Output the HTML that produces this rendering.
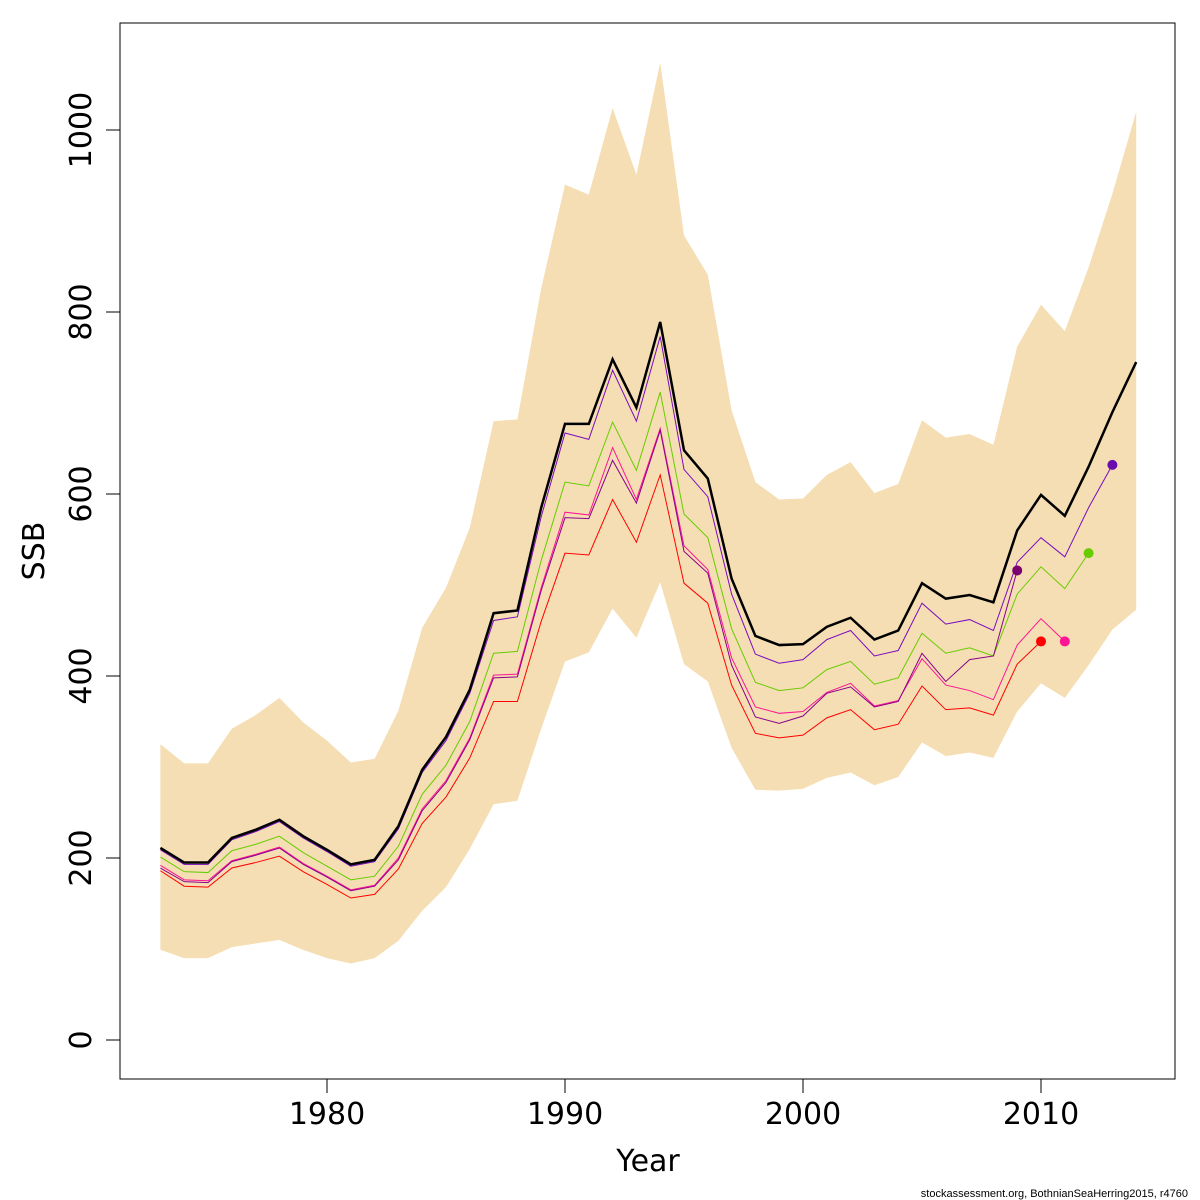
<!DOCTYPE html>
<html><head><meta charset="utf-8"><style>
html,body{margin:0;padding:0;background:#fff;}
svg{display:block;font-family:"DejaVu Sans","Liberation Sans",sans-serif;}
</style></head><body>
<svg id="chart" width="1200" height="1200" viewBox="0 0 1200 1200">
<g id="plot"></g>
<rect x="120" y="23" width="1055" height="1056" fill="none" stroke="#000" stroke-width="1"/>
<g id="axes"></g>
<text x="648" y="1171" font-size="30" text-anchor="middle">Year</text>
<text x="44" y="551" font-size="30" text-anchor="middle" transform="rotate(-90 44 551)">SSB</text>
<text x="1188" y="1197" font-size="11" text-anchor="end" font-family="Liberation Sans, sans-serif">stockassessment.org, BothnianSeaHerring2015, r4760</text>
</svg>
<script>
const years = [1973,1974,1975,1976,1977,1978,1979,1980,1981,1982,1983,1984,1985,1986,1987,1988,1989,1990,1991,1992,1993,1994,1995,1996,1997,1998,1999,2000,2001,2002,2003,2004,2005,2006,2007,2008,2009,2010,2011,2012,2013,2014];
const ssb = [211,195,195,222,231,242,224,209,193,198,235,297,333,385,469,472,585,677,677,748,695,789,648,617,507,444,434,435,454,464,440,450,502,485,489,481,560,599,576,630,690,745];
const upper = [325,304,304,342,357,376,349,329,305,309,362,453,497,563,680,682,826,940,929,1024,951,1074,884,841,692,613,594,595,621,635,601,611,681,662,666,654,762,808,779,849,930,1020];
const lower = [99,90,90,102,106,110,99,90,84,90,109,142,168,210,259,263,342,416,426,474,442,503,413,394,321,275,274,276,288,294,280,289,327,312,316,310,361,392,376,412,451,473];
const peel1 = [209,193,193,220,229,240,222,207,191,196,232,294,329,381,461,465,575,667,660,736,680,773,627,597,490,424,414,418,440,450,422,428,480,457,462,450,525,552,531,585,632];
const peel2 = [201,185,184,208,215,224,206,191,176,180,213,270,302,350,425,427,527,613,609,679,626,712,578,552,452,393,384,387,407,416,391,398,447,425,431,422,490,520,496,535];
const peel3 = [192,176,175,197,204,212,194,180,165,170,200,254,285,332,401,402,497,580,577,651,594,672,543,517,420,366,359,361,382,392,367,373,419,390,384,374,434,463,438];
const peel4 = [186,169,168,189,195,202,185,171,156,160,188,238,267,310,372,372,460,535,533,594,547,621,502,480,390,337,332,335,354,363,341,347,389,363,365,357,413,438];
const peel5 = [189,174,173,196,203,211,193,179,164,169,198,252,283,330,398,399,494,574,573,637,590,670,537,513,412,355,348,356,381,388,366,372,425,394,418,422,516];
const xTicks = [1980,1990,2000,2010];
const yTicks = [0,200,400,600,800,1000];

const NS="http://www.w3.org/2000/svg";
const X = y => 327 + (y-1980)*23.8;
const Y = v => 1040 - v*0.91;
const plot = document.getElementById('plot');
const axes = document.getElementById('axes');
function mk(tag, attrs, parent){const e=document.createElementNS(NS,tag);for(const k in attrs)e.setAttribute(k,attrs[k]);parent.appendChild(e);return e;}

let pts = years.map((y,i)=>X(y)+','+Y(upper[i]));
for(let i=years.length-1;i>=0;i--) pts.push(X(years[i])+','+Y(lower[i]));
const band = mk('polygon',{points:pts.join(' '),fill:'#F5DEB3',stroke:'none'},plot);



const peels = [[peel1,'#7A0CC0','#6A0DAD','peel-2013'],[peel2,'#66CC00','#66CC00','peel-2012'],[peel3,'#FF1493','#FF1493','peel-2011'],[peel4,'#FF0000','#FF0000','peel-2010'],[peel5,'#8B008B','#7A0070','peel-2009']];
peels.forEach(([d,c,dc,n])=>{
  const l = mk('polyline',{points:d.map((v,i)=>X(years[i])+','+Y(v)).join(' '),fill:'none',stroke:c,'stroke-width':1},plot);
  
  
});
const main = mk('polyline',{points:ssb.map((v,i)=>X(years[i])+','+Y(v)).join(' '),fill:'none',stroke:'#000','stroke-width':2.5},plot);


peels.forEach(([d,c,dc,n])=>{
  const i=d.length-1;
  const p = mk('circle',{cx:X(years[i]),cy:Y(d[i]),r:5,fill:dc},plot);
  
  
});

xTicks.forEach(t=>{
  const tk = mk('line',{x1:X(t),x2:X(t),y1:1079,y2:1093,stroke:'#000'},axes);
  
  
  const lb = mk('text',{x:X(t),y:1124,'font-size':30,'text-anchor':'middle'},axes);
  lb.textContent=t;
  
  
});
yTicks.forEach(t=>{
  const tk = mk('line',{x1:106,x2:120,y1:Y(t),y2:Y(t),stroke:'#000'},axes);
  
  
  const lb = mk('text',{x:91,y:Y(t),'font-size':30,'text-anchor':'middle',transform:'rotate(-90 91 '+Y(t)+')'},axes);
  lb.textContent=t;
  
  
});
</script>
</body></html>
